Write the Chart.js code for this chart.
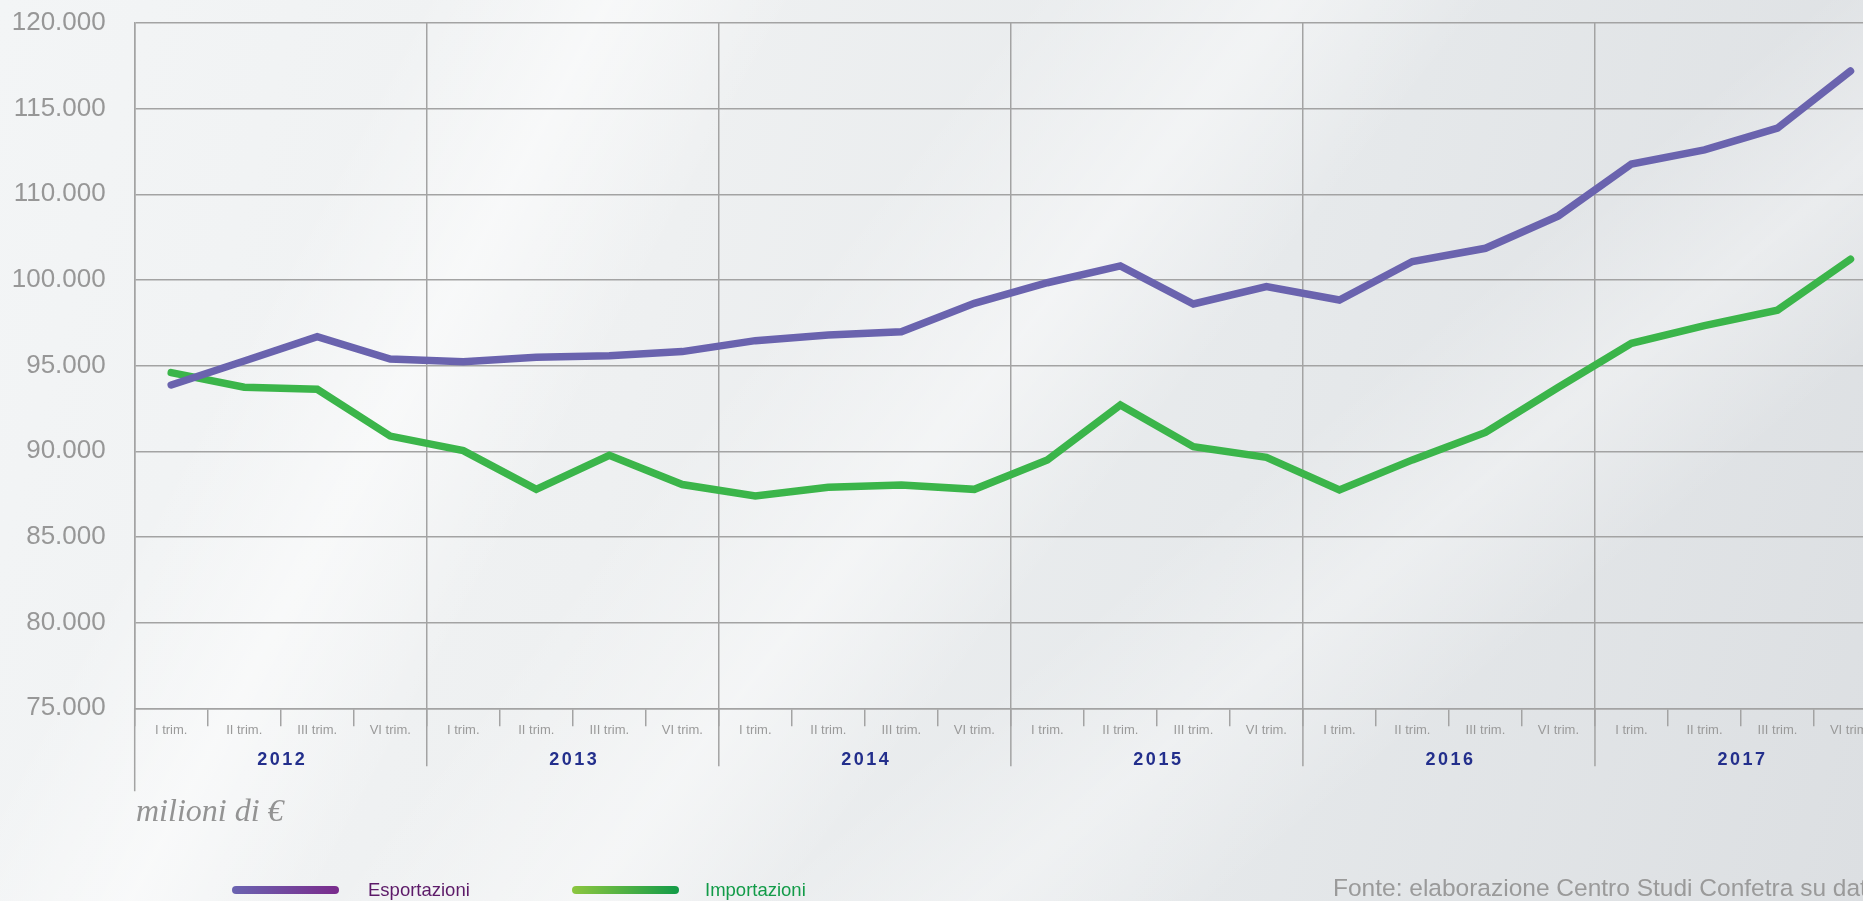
<!DOCTYPE html>
<html lang="it">
<head>
<meta charset="utf-8">
<title>Esportazioni e importazioni trimestrali 2012-2017</title>
<script src="https://cdn.jsdelivr.net/npm/chart.js@4.4.1/dist/chart.umd.min.js"></script>
<style>
    html, body {
        margin: 0;
        padding: 0;
        width: 1863px;
        height: 901px;
        overflow: hidden;
    }
    body {
        position: relative;
        font-family: "Liberation Sans", Arial, sans-serif;
        background:
            linear-gradient(118deg, rgba(255,255,255,0) 18%, rgba(255,255,255,0.55) 26%, rgba(255,255,255,0) 34%),
            linear-gradient(128deg, rgba(255,255,255,0) 40%, rgba(255,255,255,0.45) 50%, rgba(255,255,255,0) 58%),
            linear-gradient(140deg, rgba(255,255,255,0) 62%, rgba(255,255,255,0.35) 70%, rgba(255,255,255,0) 78%),
            linear-gradient(105deg, #f3f5f6 0%, #eef0f1 35%, #e6e9eb 65%, #dcdfe2 100%);
    }
    .chart-box {
        position: absolute;
        left: 0;
        top: 0;
        width: 1890px;
        height: 901px;
    }
    .unit-note {
        position: absolute;
        left: 136px;
        top: 792px;
        font-family: "Liberation Serif", "Times New Roman", serif;
        font-style: italic;
        font-size: 32px;
        color: #939393;
    }
    .legend-item {
        position: absolute;
        top: 877px;
        height: 26px;
        display: flex;
        align-items: center;
    }
    .legend-swatch {
        width: 107px;
        height: 8px;
        border-radius: 4px;
    }
    .legend-text {
        font-size: 18.5px;
        margin-left: 27px;
    }
    .source-note {
        position: absolute;
        left: 1333px;
        top: 874px;
        font-size: 24.5px;
        color: #9a9a9a;
        white-space: nowrap;
    }
</style>
</head>
<body>
<div class="chart-box"><canvas id="tradeChart"></canvas></div>
<div class="unit-note">milioni di €</div>
<div id="legend"></div>
<div class="source-note">Fonte: elaborazione Centro Studi Confetra su dati Istat</div>

<script>
//..data (values on the drawn linear scale)
const years = ['2012', '2013', '2014', '2015', '2016', '2017'];
const quarterLabels = ['I trim.', 'II trim.', 'III trim.', 'VI trim.'];
const yTickLabels = ['75.000', '80.000', '85.000', '90.000', '95.000', '100.000', '110.000', '115.000', '120.000'];
const seriesNames = ['Esportazioni', 'Importazioni'];

const esportazioni = [
    93870, 95270, 96690, 95390, 95230, 95490, 95580, 95820,
    96460, 96790, 96980, 98640, 99840, 100820, 98600, 99610,
    98830, 101080, 101850, 103740, 106770, 107590, 108860, 112200
];
const importazioni = [
    94590, 93740, 93620, 90890, 90040, 87780, 89770, 88060,
    87390, 87900, 88030, 87780, 89490, 92700, 90270, 89650,
    87740, 89500, 91100, 93740, 96300, 97340, 98240, 101210
];

const GRID = '#a3a3a3';

document.addEventListener('DOMContentLoaded', () => {
    renderChart();
    renderLegend();
});

function renderChart() {
    const labels = [];
    years.forEach(() => quarterLabels.forEach(q => labels.push(q)));

    //..year boundaries, the long axis line and the year captions under the quarters
    const yearPlugin = {
        id: 'yearBands',
        afterDraw(chart) {
            const ctx = chart.ctx;
            const xs = chart.scales.x;
            const bottom = chart.chartArea.bottom;
            const step = (xs.right - xs.left) / labels.length;

            ctx.save();
            ctx.strokeStyle = GRID;
            ctx.lineWidth = 1.5;
            ctx.beginPath();
            ctx.moveTo(xs.left, bottom);
            ctx.lineTo(xs.left, bottom + 83);
            for (let k = 1; k <= years.length; k++) {
                const edge = xs.left + k * quarterLabels.length * step;
                ctx.moveTo(edge, bottom);
                ctx.lineTo(edge, bottom + 58);
            }
            ctx.stroke();

            ctx.fillStyle = '#232f8c';
            ctx.font = 'bold 18px "Liberation Sans", Arial, sans-serif';
            ctx.letterSpacing = '2.5px';
            ctx.textAlign = 'center';
            ctx.textBaseline = 'middle';
            years.forEach((year, k) => {
                const mid = xs.left + (k + 0.5) * quarterLabels.length * step;
                ctx.fillText(year, mid + 1.5, bottom + 52);
            });
            ctx.restore();
        }
    };

    new Chart(document.getElementById('tradeChart'), {
        type: 'line',
        data: {
            labels: labels,
            datasets: [{
                label: seriesNames[0],
                data: esportazioni,
                borderColor: '#6a63ae',
                borderWidth: 7.5,
                borderCapStyle: 'round',
                pointRadius: 0,
                tension: 0
            }, {
                label: seriesNames[1],
                data: importazioni,
                borderColor: '#3bb54a',
                borderWidth: 7.5,
                borderCapStyle: 'round',
                pointRadius: 0,
                tension: 0
            }]
        },
        options: {
            responsive: true,
            maintainAspectRatio: false,
            animation: false,
            layout: {
                padding: { top: 23, left: 0, right: 3, bottom: 0 }
            },
            plugins: {
                legend: { display: false },
                tooltip: { enabled: false }
            },
            scales: {
                x: {
                    type: 'category',
                    offset: true,
                    border: { display: true, color: GRID, width: 1.5 },
                    grid: {
                        offset: true,
                        lineWidth: 1.5,
                        color: ctx => (ctx.index % quarterLabels.length === 0 ? GRID : 'rgba(0,0,0,0)'),
                        tickColor: GRID,
                        tickLength: 18
                    },
                    ticks: {
                        autoSkip: false,
                        maxRotation: 0,
                        padding: -4,
                        color: '#9a9a9a',
                        font: { family: '"Liberation Sans", Arial, sans-serif', size: 13 }
                    },
                    afterFit: scale => {
                        scale.height = 192.7;
                        scale.paddingLeft = 0;
                        scale.paddingRight = 0;
                    }
                },
                y: {
                    min: 75000,
                    max: 115000,
                    border: { display: true, color: GRID, width: 1.5 },
                    grid: {
                        color: GRID,
                        lineWidth: 1.5,
                        drawTicks: false
                    },
                    ticks: {
                        stepSize: 5000,
                        padding: 29,
                        color: '#979797',
                        font: { family: '"Liberation Sans", Arial, sans-serif', size: 26 },
                        callback: (value, index) => yTickLabels[index]
                    },
                    afterFit: scale => {
                        scale.width = 134.7;
                        scale.paddingTop = 0;
                        scale.paddingBottom = 0;
                    }
                }
            }
        },
        plugins: [yearPlugin]
    });
}

function renderLegend() {
    const legend = document.getElementById('legend');
    const styles = [
        { left: 232, gap: 29, bar: 'linear-gradient(90deg, #6a63b0, #7a2b8c)', text: '#5c1a68' },
        { left: 572, gap: 26, bar: 'linear-gradient(90deg, #8cc63f, #129b48)', text: '#129b48' }
    ];
    seriesNames.forEach((name, i) => {
        const item = document.createElement('div');
        item.className = 'legend-item';
        item.style.left = styles[i].left + 'px';
        item.innerHTML = `
            <div class="legend-swatch" style="background:${styles[i].bar}"></div>
            <div class="legend-text" style="color:${styles[i].text};margin-left:${styles[i].gap}px">${name}</div>
        `;
        legend.appendChild(item);
    });
}
</script>
</body>
</html>
